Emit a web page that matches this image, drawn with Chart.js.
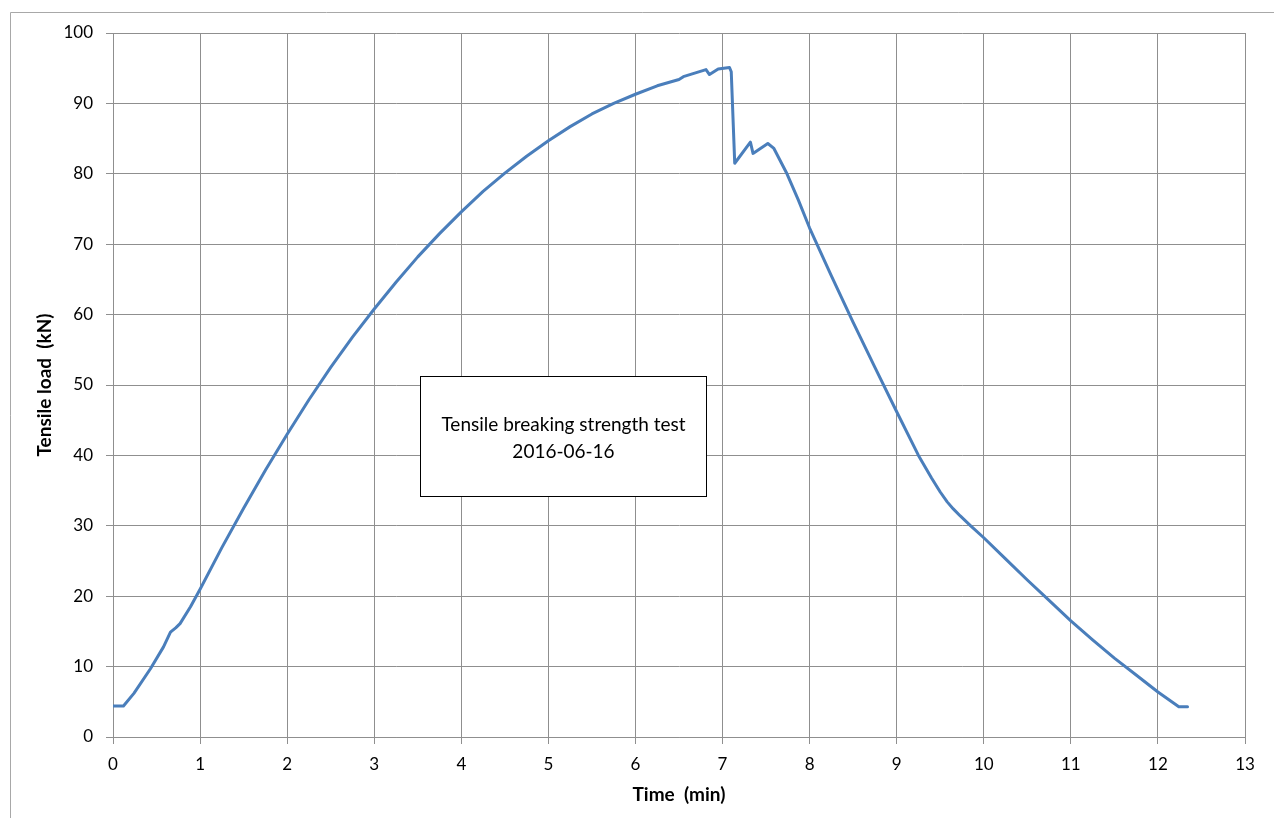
<!DOCTYPE html>
<html>
<head>
<meta charset="utf-8">
<script src="https://cdn.jsdelivr.net/npm/chart.js@4/dist/chart.umd.min.js"></script>
<style>
  html, body { margin: 0; padding: 0; background: #fff; }
  #wrap { width: 1274px; height: 818px; position: relative; }
</style>
</head>
<body>
<div id="wrap"><canvas id="c" width="1274" height="818"></canvas></div>
<script>
// ---- Data ----
const timeMin = [0, 0.12, 0.24, 0.43, 0.58, 0.66, 0.72, 0.77, 0.89, 1.0, 1.25, 1.5, 1.75, 2.0, 2.25, 2.5, 2.75, 3.0, 3.25, 3.5, 3.75, 4.0, 4.25, 4.5, 4.75, 5.0, 5.25, 5.5, 5.75, 6.0, 6.25, 6.5, 6.55, 6.81, 6.85, 6.95, 7.08, 7.1, 7.14, 7.32, 7.35, 7.52, 7.59, 7.74, 7.87, 8.0, 8.25, 8.5, 8.75, 9.0, 9.25, 9.4, 9.5, 9.58, 9.65, 9.73, 9.85, 10.0, 10.25, 10.5, 10.75, 11.0, 11.25, 11.5, 11.75, 12.0, 12.24, 12.34];
const loadKN  = [4.4, 4.4, 6.2, 9.7, 12.8, 14.9, 15.5, 16.1, 18.5, 21.0, 26.9, 32.5, 37.9, 43.0, 47.9, 52.5, 56.8, 60.8, 64.6, 68.2, 71.5, 74.6, 77.5, 80.1, 82.5, 84.7, 86.7, 88.5, 90.0, 91.3, 92.5, 93.4, 93.8, 94.8, 94.1, 94.9, 95.1, 94.5, 81.5, 84.5, 82.9, 84.3, 83.6, 80.0, 76.3, 72.3, 65.5, 58.9, 52.5, 46.2, 40.0, 36.8, 34.8, 33.4, 32.4, 31.4, 30.0, 28.3, 25.3, 22.3, 19.4, 16.5, 13.8, 11.2, 8.8, 6.4, 4.3, 4.3];
const xTicks = [0,1,2,3,4,5,6,7,8,9,10,11,12,13];
const yTicks = [0,10,20,30,40,50,60,70,80,90,100];
const xTitle = 'Time  (min)';
const yTitle = 'Tensile load  (kN)';
const noteLines = ['Tensile breaking strength test', '2016-06-16'];

// ---- Styles ----
const FONT = 'Lato, "Open Sans", sans-serif';
const GRID = '#8f8f8f';
const LINE = '#4a7ebb';

const points = timeMin.map((t, i) => ({ x: t, y: loadKN[i] }));

// note box in data coordinates (annotation, not a data mark)
const noteBox = { x1: 3.52, x2: 6.81, y1: 51.3, y2: 34.3 };

const framePlugin = {
  id: 'frame',
  beforeDraw(chart) {
    const ctx = chart.ctx;
    ctx.save();
    ctx.fillStyle = '#fff';
    ctx.fillRect(0, 0, chart.width, chart.height);
    ctx.strokeStyle = '#a8a8a8';
    ctx.lineWidth = 1;
    ctx.beginPath();
    ctx.moveTo(10.5, chart.height);
    ctx.lineTo(10.5, 12.5);
    ctx.lineTo(chart.width, 12.5);
    ctx.stroke();
    ctx.restore();
  }
};

const notePlugin = {
  id: 'note',
  afterDatasetsDraw(chart) {
    const { ctx, scales: { x, y } } = chart;
    const l = Math.round(x.getPixelForValue(noteBox.x1)) + 0.5;
    const r = Math.round(x.getPixelForValue(noteBox.x2)) + 0.5;
    const t = Math.round(y.getPixelForValue(noteBox.y1)) + 0.5;
    const b = Math.round(y.getPixelForValue(noteBox.y2)) + 0.5;
    ctx.save();
    ctx.fillStyle = '#fff';
    ctx.fillRect(l, t, r - l, b - t);
    ctx.strokeStyle = '#000';
    ctx.lineWidth = 1;
    ctx.strokeRect(l, t, r - l, b - t);
    ctx.fillStyle = '#000';
    ctx.font = '19px ' + FONT;
    ctx.textAlign = 'center';
    ctx.textBaseline = 'middle';
    const cx = (l + r) / 2;
    ctx.fillText(noteLines[0], cx, t + 48);
    ctx.fillText(noteLines[1], cx, t + 75);
    ctx.restore();
  }
};

new Chart(document.getElementById('c'), {
  type: 'line',
  data: {
    datasets: [{
      data: points,
      borderColor: LINE,
      borderWidth: 3,
      pointRadius: 0,
      tension: 0,
      fill: false,
      borderJoinStyle: 'round',
      borderCapStyle: 'round'
    }]
  },
  options: {
    responsive: false,
    animation: false,
    devicePixelRatio: 1,
    layout: { padding: { top: 33, right: 29, left: 0, bottom: 0 } },
    plugins: { legend: { display: false }, tooltip: { enabled: false } },
    scales: {
      x: {
        type: 'linear',
        min: 0, max: 13,
        afterBuildTicks: s => { s.ticks = xTicks.map(v => ({ value: v })); },
        afterFit: s => { s.height = 81; },
        ticks: { color: '#000', font: { family: FONT, size: 17 }, padding: 10, maxRotation: 0, autoSkip: false },
        grid: { color: GRID, lineWidth: 1, tickLength: 7, drawTicks: true },
        border: { color: GRID, width: 1 },
        title: { display: true, text: xTitle, color: '#000', font: { family: FONT, size: 19, weight: 'bold' }, padding: { top: 0, bottom: 11.5 } }
      },
      y: {
        type: 'linear',
        min: 0, max: 100,
        afterBuildTicks: s => { s.ticks = yTicks.map(v => ({ value: v })); },
        afterFit: s => { s.width = 113; },
        ticks: { color: '#000', font: { family: FONT, size: 17 }, padding: 13, autoSkip: false },
        grid: { color: GRID, lineWidth: 1, tickLength: 7, drawTicks: true },
        border: { color: GRID, width: 1 },
        title: { display: true, text: yTitle, color: '#000', font: { family: FONT, size: 19, weight: 'bold' }, padding: { top: 33.5, bottom: 0 } }
      }
    }
  },
  plugins: [framePlugin, notePlugin]
});
</script>
</body>
</html>
